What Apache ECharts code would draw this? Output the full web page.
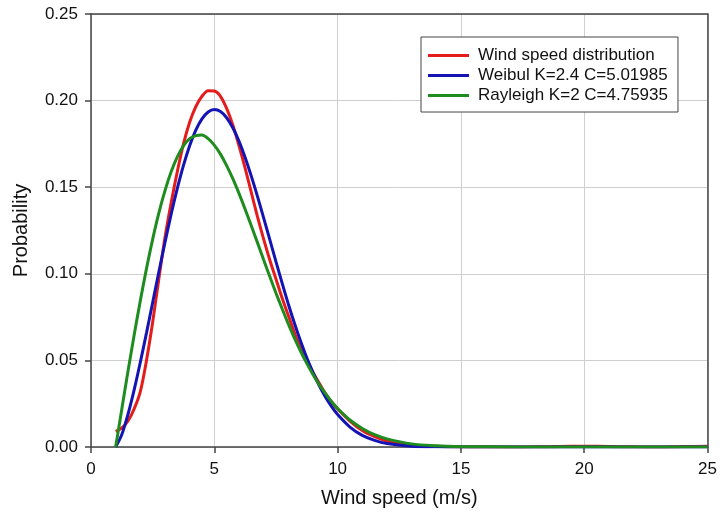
<!DOCTYPE html>
<html>
<head>
<meta charset="utf-8">
<script src="https://cdn.jsdelivr.net/npm/echarts@6/dist/echarts.min.js"></script>
<style>html,body{margin:0;padding:0;background:#fff}#c{width:720px;height:517px}</style>
</head>
<body>
<div id="c"></div>
<script>
var windX   = [1, 1.25, 1.5, 1.75, 2, 2.25, 2.5, 2.75, 3, 3.25, 3.5, 3.75, 4, 4.25, 4.5, 4.75, 5, 5.25, 5.5, 5.75, 6, 6.25, 6.5, 6.75, 7, 7.25, 7.5, 7.75, 8, 8.25, 8.5, 8.75, 9, 9.25, 9.5, 9.75, 10, 10.5, 11, 11.5, 12, 13, 14, 15, 16, 17, 18, 19, 20, 21, 22, 23, 24, 25];
var windVal = [0.009, 0.011, 0.015, 0.022, 0.032, 0.050, 0.072, 0.097, 0.121, 0.141, 0.159, 0.175, 0.1875, 0.1965, 0.2025, 0.2057, 0.2055, 0.2025, 0.1955, 0.186, 0.174, 0.161, 0.147, 0.133, 0.120, 0.108, 0.097, 0.086, 0.076, 0.066, 0.057, 0.050, 0.043, 0.037, 0.031, 0.026, 0.022, 0.015, 0.0095, 0.006, 0.0035, 0.0012, 0.0004, 0.0001, 0, 0, 0.0001, 0.0003, 0.0004, 0.0003, 0.0001, 0, 0.0003, 0.0004];
var fitX    = [1, 1.25, 1.5, 1.75, 2, 2.25, 2.5, 2.75, 3, 3.25, 3.5, 3.75, 4, 4.25, 4.5, 4.75, 5, 5.25, 5.5, 5.75, 6, 6.25, 6.5, 6.75, 7, 7.25, 7.5, 7.75, 8, 8.25, 8.5, 8.75, 9, 9.25, 9.5, 9.75, 10, 10.5, 11, 11.5, 12, 13, 14, 15, 16, 18, 20, 22, 25];
var weibVal = [0, 0.0072, 0.0189, 0.0330, 0.0489, 0.0659, 0.0834, 0.1010, 0.1181, 0.1344, 0.1493, 0.1626, 0.1739, 0.1829, 0.1894, 0.1934, 0.1948, 0.1937, 0.1901, 0.1843, 0.1766, 0.1672, 0.1564, 0.1447, 0.1323, 0.1197, 0.1070, 0.0946, 0.0826, 0.0714, 0.0610, 0.0515, 0.0431, 0.0356, 0.0290, 0.0234, 0.0187, 0.0115, 0.0067, 0.0038, 0.0020, 0.0005, 0.0001, 0, 0, 0, 0, 0, 0];
var rayVal  = [0, 0.0220, 0.0437, 0.0646, 0.0845, 0.1030, 0.1199, 0.1350, 0.1480, 0.1589, 0.1675, 0.1739, 0.1780, 0.1798, 0.1801, 0.1780, 0.1743, 0.1691, 0.1625, 0.1549, 0.1464, 0.1373, 0.1277, 0.1180, 0.1081, 0.0984, 0.0889, 0.0798, 0.0711, 0.0629, 0.0553, 0.0483, 0.0419, 0.0361, 0.0309, 0.0263, 0.0222, 0.0156, 0.0107, 0.0071, 0.0047, 0.0018, 0.0007, 0.0002, 0.0001, 0, 0, 0, 0];
var seriesNames = ['Wind speed distribution', 'Weibul K=2.4 C=5.01985', 'Rayleigh K=2 C=4.75935'];
var xTicks = [0, 5, 10, 15, 20, 25];
var yTicks = [0, 0.05, 0.10, 0.15, 0.20, 0.25];

function pairs(xs, ys){ return xs.map(function(x,i){ return [x, ys[i]]; }); }

var chart = echarts.init(document.getElementById('c'), null, {renderer:'canvas'});
var font = '"Liberation Sans", Arial, sans-serif';
var frameLine = {show: true, onZero: false, lineStyle: {color: '#444', width: 1.5}};
chart.setOption({
  animation: false,
  backgroundColor: '#fff',
  grid: {left: 91, right: 11, top: 14, bottom: 70},
  legend: {
    orient: 'vertical', left: 421, top: 37,
    padding: [10, 10, 8, 7], itemGap: 3, itemWidth: 41, itemHeight: 3,
    backgroundColor: '#fff', borderColor: '#444', borderWidth: 1,
    textStyle: {fontFamily: font, fontSize: 17, color: '#111', padding: [0,0,0,4]},
    data: seriesNames.map(function(n){ return {name: n, icon: 'rect'}; })
  },
  xAxis: [{
    type: 'value', min: xTicks[0], max: xTicks[xTicks.length-1], interval: 5,
    name: 'Wind speed (m/s)', nameLocation: 'middle', nameGap: 41,
    nameTextStyle: {fontFamily: font, fontSize: 20, color: '#111'},
    axisLine: frameLine,
    axisTick: {show: true, inside: false, length: 6, lineStyle: {color: '#444', width: 1.5}},
    axisLabel: {fontFamily: font, fontSize: 17, color: '#111', margin: 14},
    splitLine: {show: true, lineStyle: {color: '#cfcfcf', width: 1}}
  }, {
    type: 'value', position: 'top', min: xTicks[0], max: xTicks[xTicks.length-1], interval: 5,
    axisLine: frameLine, axisTick: {show: false}, axisLabel: {show: false}, splitLine: {show: false}
  }],
  yAxis: [{
    type: 'value', min: yTicks[0], max: yTicks[yTicks.length-1], interval: 0.05,
    name: 'Probability', nameLocation: 'middle', nameGap: 60, nameRotate: 90,
    nameTextStyle: {fontFamily: font, fontSize: 20, color: '#111'},
    axisLine: frameLine,
    axisTick: {show: true, inside: false, length: 6, lineStyle: {color: '#444', width: 1.5}},
    axisLabel: {fontFamily: font, fontSize: 17, color: '#111', margin: 13, formatter: function(v){ return v.toFixed(2); }},
    splitLine: {show: true, lineStyle: {color: '#cfcfcf', width: 1}}
  }, {
    type: 'value', position: 'right', min: yTicks[0], max: yTicks[yTicks.length-1], interval: 0.05,
    axisLine: frameLine, axisTick: {show: false}, axisLabel: {show: false}, splitLine: {show: false}
  }],
  series: [
    {name: seriesNames[0], type: 'line', data: pairs(windX, windVal), smooth: 0.3, showSymbol: false, symbol: 'none', color: '#e41c1c', lineStyle: {width: 3, color: '#e41c1c'}, z: 3},
    {name: seriesNames[1], type: 'line', data: pairs(fitX, weibVal), smooth: 0.3, showSymbol: false, symbol: 'none', color: '#1414b4', lineStyle: {width: 3, color: '#1414b4'}, z: 4},
    {name: seriesNames[2], type: 'line', data: pairs(fitX, rayVal), smooth: 0.3, showSymbol: false, symbol: 'none', color: '#1e8c1e', lineStyle: {width: 3, color: '#1e8c1e'}, z: 5}
  ]
});
</script>
</body>
</html>
